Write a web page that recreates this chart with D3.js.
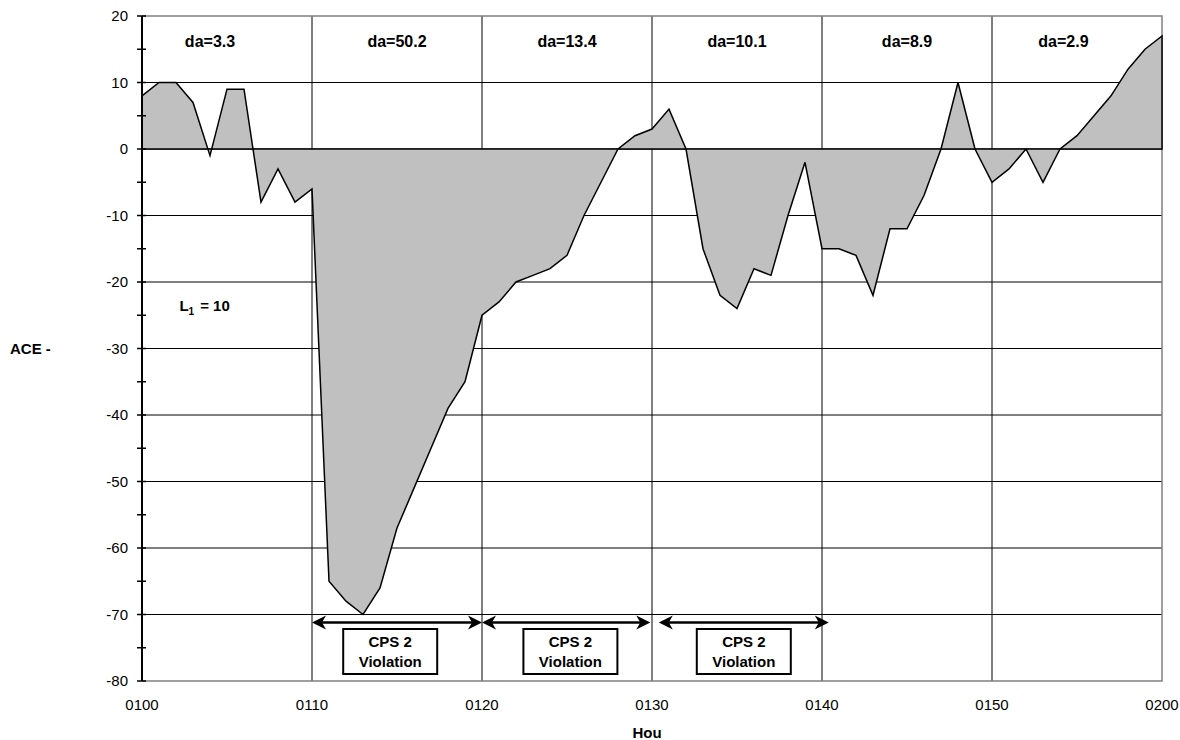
<!DOCTYPE html>
<html>
<head>
<meta charset="utf-8">
<script src="https://cdn.jsdelivr.net/npm/d3@7"></script>
<style>
  body { margin: 0; background: #fff; }
  text { font-family: "Liberation Sans", Arial, sans-serif; fill: #000; }
  .bold { font-weight: bold; }
</style>
</head>
<body>
<div id="chart"></div>
<script>
// ACE value per minute, 0100 .. 0200
const ace = [8, 10, 10, 7, -1, 9, 9, -8, -3, -8, -6,
    -65, -68, -70, -66, -57, -51, -45, -39, -35, -25,
    -23, -20, -19, -18, -16, -10, -5, 0, 2, 3,
    6, 0, -15, -22, -24, -18, -19, -10, -2, -15,
    -15, -16, -22, -12, -12, -7, 0, 10, 0, -5,
    -3, 0, -5, 0, 2, 5, 8, 12, 15, 17];

const timeTicks = [0, 10, 20, 30, 40, 50, 60];
const timeLabels = ["0100", "0110", "0120", "0130", "0140", "0150", "0200"];
const yTicks = [20, 10, 0, -10, -20, -30, -40, -50, -60, -70, -80];

// da labels, one per 10 minute block (minute where label is centred)
const daValues = ["3.3", "50.2", "13.4", "10.1", "8.9", "2.9"];
const daAt = [4, 15, 25, 35, 45, 54.2];

// CPS 2 violation arrows (start, end minute) and box centres
const violationSpans = [[10, 20], [20, 29.9], [30.4, 40.4]];
const violationBoxAt = [14.6, 25.2, 35.4];

const width = 1180, height = 740;
const margin = {top: 16, left: 142, right: 18, bottom: 59};

const svg = d3.select("#chart").append("svg")
    .attr("width", width)
    .attr("height", height);

const xScale = d3.scaleLinear()
    .domain([0, 60])
    .range([margin.left, width - margin.right]);

const yScale = d3.scaleLinear()
    .domain([-80, 20])
    .range([height - margin.bottom, margin.top]);

// grid
svg.append("g")
    .selectAll("line")
    .data(yTicks.filter(d => d > -80 && d < 20))
    .enter().append("line")
    .attr("x1", xScale(0)).attr("x2", xScale(60))
    .attr("y1", d => yScale(d)).attr("y2", d => yScale(d))
    .attr("stroke", "#000").attr("stroke-width", 1);

svg.append("g")
    .selectAll("line")
    .data(timeTicks.filter(d => d > 0 && d < 60))
    .enter().append("line")
    .attr("x1", d => xScale(d)).attr("x2", d => xScale(d))
    .attr("y1", yScale(20)).attr("y2", yScale(-80))
    .attr("stroke", "#000").attr("stroke-width", 1);

// plot border (top, right, bottom)
svg.append("path")
    .attr("d", `M${xScale(0)},${yScale(20)}H${xScale(60)}V${yScale(-80)}H${xScale(0)}`)
    .attr("fill", "none")
    .attr("stroke", "#808080")
    .attr("stroke-width", 1.5);

// area
const area = d3.area()
    .x((d, i) => xScale(i))
    .y0(yScale(0))
    .y1(d => yScale(d));

svg.append("path")
    .datum(ace)
    .attr("d", area)
    .attr("fill", "#c0c0c0")
    .attr("stroke", "#000")
    .attr("stroke-width", 1.5)
    .attr("stroke-linejoin", "miter");

// y axis
const yAxis = svg.append("g")
    .attr("transform", `translate(${xScale(0)},0)`);

yAxis.append("line")
    .attr("y1", yScale(20)).attr("y2", yScale(-80))
    .attr("stroke", "#000").attr("stroke-width", 2);

yAxis.selectAll(".tick")
    .data(d3.range(-80, 21, 5))
    .enter().append("line")
    .attr("x1", -5).attr("x2", 4)
    .attr("y1", d => yScale(d)).attr("y2", d => yScale(d))
    .attr("stroke", "#000").attr("stroke-width", 1.5);

yAxis.selectAll("text")
    .data(yTicks)
    .enter().append("text")
    .attr("x", -14)
    .attr("y", d => yScale(d))
    .attr("dy", "0.35em")
    .attr("text-anchor", "end")
    .style("font-size", "15px")
    .text(d => d);

// x labels
svg.append("g")
    .selectAll("text")
    .data(timeTicks)
    .enter().append("text")
    .attr("x", d => xScale(d))
    .attr("y", yScale(-80) + 24)
    .attr("dy", "0.35em")
    .attr("text-anchor", "middle")
    .style("font-size", "15px")
    .text((d, i) => timeLabels[i]);

// axis titles
svg.append("text")
    .attr("class", "bold")
    .attr("x", 10)
    .attr("y", yScale(-30))
    .attr("dy", "0.35em")
    .style("font-size", "15px")
    .text("ACE -");

svg.append("text")
    .attr("class", "bold")
    .attr("x", 647)
    .attr("y", 733)
    .attr("dy", "0.35em")
    .attr("text-anchor", "middle")
    .style("font-size", "15px")
    .text("Hou");

// da labels
svg.append("g")
    .selectAll("text")
    .data(daValues)
    .enter().append("text")
    .attr("class", "bold")
    .attr("x", (d, i) => xScale(daAt[i]))
    .attr("y", yScale(16.2))
    .attr("dy", "0.35em")
    .attr("text-anchor", "middle")
    .style("font-size", "16px")
    .text(d => "da=" + d);

// L1 = 10
const l1 = svg.append("text")
    .attr("class", "bold")
    .attr("x", xScale(2.2))
    .attr("y", yScale(-23.6))
    .attr("dy", "0.35em")
    .style("font-size", "15px");
l1.append("tspan").text("L");
l1.append("tspan").attr("dy", 4).style("font-size", "10px").text("1");
l1.append("tspan").attr("dy", -4).attr("dx", 6).text("= 10");

// violation arrows
const arrowY = yScale(-71.2);
const head = "M0,0 L-14,-7 L-10,0 L-14,7 Z";

const arrows = svg.append("g");
violationSpans.forEach(function(s) {
    const x1 = xScale(s[0]), x2 = xScale(s[1]);
    arrows.append("line")
        .attr("x1", x1 + 4).attr("x2", x2 - 4)
        .attr("y1", arrowY).attr("y2", arrowY)
        .attr("stroke", "#000").attr("stroke-width", 2.5);
    arrows.append("path")
        .attr("d", head)
        .attr("transform", `translate(${x2},${arrowY})`);
    arrows.append("path")
        .attr("d", head)
        .attr("transform", `translate(${x1},${arrowY}) rotate(180)`);
});

const boxes = svg.append("g")
    .selectAll("g")
    .data(violationBoxAt)
    .enter().append("g")
    .attr("transform", d => `translate(${xScale(d)},0)`);

boxes.append("rect")
    .attr("x", -47)
    .attr("y", 629)
    .attr("width", 94)
    .attr("height", 45)
    .attr("fill", "#fff")
    .attr("stroke", "#000")
    .attr("stroke-width", 2);

boxes.append("text")
    .attr("class", "bold")
    .attr("y", 642)
    .attr("dy", "0.35em")
    .attr("text-anchor", "middle")
    .style("font-size", "15px")
    .text("CPS 2");

boxes.append("text")
    .attr("class", "bold")
    .attr("y", 662)
    .attr("dy", "0.35em")
    .attr("text-anchor", "middle")
    .style("font-size", "15px")
    .text("Violation");
</script>
</body>
</html>
